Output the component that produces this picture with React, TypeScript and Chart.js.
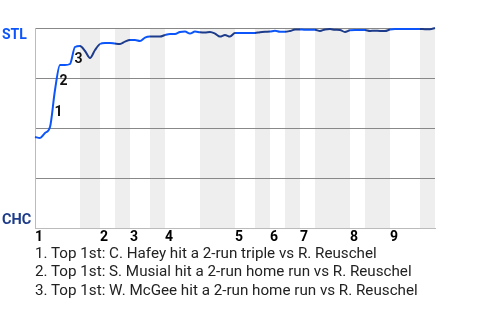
import React, { useEffect, useRef } from 'react';
import { Chart, registerables } from 'chart.js';

Chart.register(...registerables);

// Number of plate-appearance events in each half inning (Top 1st, Bottom 1st, ...)
const halfInningEvents = [9, 4, 3, 3, 4, 3, 7, 7, 4, 3, 3, 3, 3, 7, 3, 5, 6, 3];
const inningLabels = ['1', '2', '3', '4', '5', '6', '7', '8', '9'];
const teamTop = 'STL';
const teamBottom = 'CHC';

// STL win probability (%) after each event (index 0 = first pitch)
const stlWinProb = [
  45.5, 45, 47.5, 50.5, 69, 81.5, 81.5, 82, 90.5, 91,
  88.5, 85, 89, 92,
  92.5, 92.5, 92.2,
  92, 93.2, 94,
  94, 93.5, 95.2, 95.7,
  95.7, 95.7, 96.5,
  97, 97, 98, 98.2, 97.2, 98.2, 97.9,
  97.8, 98, 97.2, 95.7, 96.5, 95.7, 97.5,
  97.5, 97.5, 97.5, 97.5,
  97.9, 98.1, 98.2,
  98.6, 98.1, 98.1,
  98.5, 99.2, 99.3,
  99.1, 99.1, 99.1,
  98.5, 99.3, 99.5, 99.1, 99, 98, 98.9,
  99, 99, 99,
  98.5, 98.65, 98.5, 98.5, 99.25,
  99.5, 99.5, 99.5, 99.5, 99.5, 99.5,
  99.4, 99.4, 100,
];

// Annotated events (index of the event in stlWinProb)
const annotationNumbers = ['1', '2', '3'];
const annotationEvents = [4, 5, 8];
const annotationNotes = [
  '1. Top 1st: C. Hafey hit a 2-run triple vs R. Reuschel',
  '2. Top 1st: S. Musial hit a 2-run home run vs R. Reuschel',
  '3. Top 1st: W. McGee hit a 2-run home run vs R. Reuschel',
];

const TOP_COLOR = '#0b55fb';
const BOTTOM_COLOR = '#1d3b8b';
const FONT = 'Roboto, "Noto Sans", Arial, sans-serif';

const cumulative: number[] = [0];
halfInningEvents.forEach((n) => cumulative.push(cumulative[cumulative.length - 1] + n));
const inningStarts = cumulative.filter((_, i) => i % 2 === 0 && i < cumulative.length - 1);

function halfOfEvent(e: number): number {
  for (let h = 0; h < halfInningEvents.length; h++) {
    if (e > cumulative[h] && e <= cumulative[h + 1]) return h;
  }
  return 0;
}

const bandsPlugin = {
  id: 'bands',
  beforeDraw(chart: any) {
    const { ctx, chartArea, scales } = chart;
    const xs = scales.x;
    ctx.save();
    ctx.fillStyle = '#eeeeee';
    for (let h = 1; h < halfInningEvents.length; h += 2) {
      const x0 = xs.getPixelForValue(cumulative[h]);
      const x1 = xs.getPixelForValue(cumulative[h + 1]);
      ctx.fillRect(x0, chartArea.top, x1 - x0, chartArea.bottom - chartArea.top);
    }
    ctx.restore();
  },
  afterDraw(chart: any) {
    const { ctx, chartArea, scales } = chart;
    const xs = scales.x;
    const ys = scales.y;
    ctx.save();
    ctx.font = `bold 14px ${FONT}`;
    ctx.textAlign = 'left';
    ctx.textBaseline = 'alphabetic';
    ctx.fillStyle = TOP_COLOR;
    ctx.fillText(teamTop, 2, chartArea.top + 11);
    ctx.font = `bold 14.5px ${FONT}`;
    ctx.fillStyle = BOTTOM_COLOR;
    ctx.fillText(teamBottom, 2, chartArea.bottom - 4);

    ctx.font = `bold 14px ${FONT}`;
    ctx.fillStyle = '#111';
    ctx.textAlign = 'center';
    ctx.textBaseline = 'middle';
    annotationEvents.forEach((e, i) => {
      const x0 = xs.getPixelForValue(e - 1);
      const x1 = xs.getPixelForValue(e);
      const y0 = ys.getPixelForValue(stlWinProb[e - 1]);
      const y1 = ys.getPixelForValue(stlWinProb[e]);
      ctx.fillText(annotationNumbers[i], (x0 + x1) / 2 + 6, (y0 + y1) / 2 + 4);
    });
    ctx.restore();
  },
};

export default function App() {
  const canvasRef = useRef<HTMLCanvasElement | null>(null);

  useEffect(() => {
    if (!canvasRef.current) return;
    const chart = new Chart(canvasRef.current, {
      type: 'line',
      data: {
        datasets: [
          {
            data: stlWinProb.map((v, i) => ({ x: i, y: v })),
            borderWidth: 2,
            pointRadius: 0,
            fill: false,
            cubicInterpolationMode: 'monotone',
            borderColor: TOP_COLOR,
            clip: 4,
            segment: {
              borderColor: (c: any) => (halfOfEvent(c.p1DataIndex) % 2 === 1 ? BOTTOM_COLOR : TOP_COLOR),
            },
          } as any,
        ],
      },
      options: {
        animation: false,
        responsive: false,
        maintainAspectRatio: false,
        layout: { padding: { left: 35, right: 45, top: 28, bottom: 72 } },
        plugins: { legend: { display: false }, tooltip: { enabled: false } },
        scales: {
          x: {
            type: 'linear',
            min: 0,
            max: cumulative[cumulative.length - 1],
            grid: { display: false, drawTicks: false },
            border: { display: true, color: '#bbbbbb', width: 1 },
            afterBuildTicks: (scale: any) => {
              scale.ticks = inningStarts.map((v) => ({ value: v }));
            },
            afterFit: (scale: any) => {
              scale.height = 20;
            },
            ticks: {
              autoSkip: false,
              align: 'start',
              maxRotation: 0,
              padding: 1,
              color: '#000',
              font: { family: FONT, size: 14, weight: 'bold' },
              callback: (value: any) => {
                const i = inningStarts.indexOf(Number(value));
                return i >= 0 ? inningLabels[i] : '';
              },
            },
          },
          y: {
            min: 0,
            max: 100,
            ticks: { display: false, stepSize: 25 },
            grid: {
              drawTicks: false,
              color: (c: any) => (c.tick && c.tick.value === 0 ? 'rgba(0,0,0,0)' : '#888888'),
              lineWidth: 1,
            },
            border: { display: true, color: '#bbbbbb', width: 1 },
            afterFit: (scale: any) => {
              scale.width = 0;
            },
          },
        },
      } as any,
      plugins: [bandsPlugin],
    });
    return () => chart.destroy();
  }, []);

  return (
    <div style={{ position: 'fixed', left: 0, top: 0, width: 480, height: 320, background: '#fff' }}>
      <canvas ref={canvasRef} width={480} height={320} style={{ display: 'block', width: 480, height: 320 }} />
      <div
        style={{
          position: 'absolute',
          left: 35,
          top: 244,
          fontFamily: FONT,
          fontSize: 15.2,
          lineHeight: '18.3px',
          color: '#222',
          whiteSpace: 'nowrap',
        }}
      >
        {annotationNotes.map((t, i) => (
          <div key={i}>{t}</div>
        ))}
      </div>
    </div>
  );
}
